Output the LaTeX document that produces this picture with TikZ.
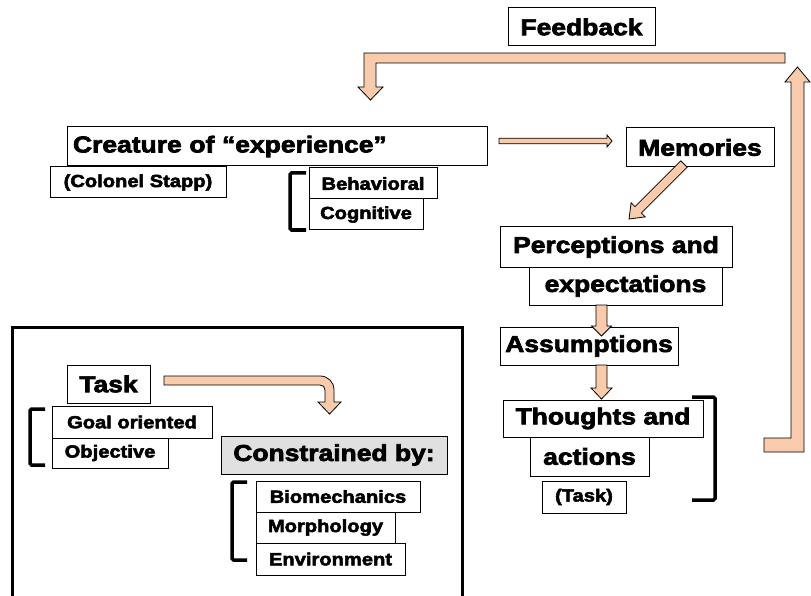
\documentclass[tikz,border=0pt]{standalone}
\usepackage{fontspec}
\newfontfamily\heavy{Liberation Sans}[FakeStretch=1.15,BoldFeatures={FakeBold=3}]
\usetikzlibrary{calc}
\definecolor{peach}{RGB}{248,203,173}
\definecolor{tagfill}{RGB}{224,224,224}

% box given by its corners: style, name, x1, y1, x2, y2, text
\newcommand\boxat[7]{%
  \node[#1, minimum width={#5-#3}, minimum height={#6-#4}] (#2)
    at ({(#3+#5)/2},{(#4+#6)/2}) {#7};}

% straight block arrow: from, to, half shaft, half head, head length
\newcommand\blockarrow[5]{%
  \coordinate (ba-h) at ($(#2)!#5!(#1)$);
  \draw[flow] ($(#1)!#3!90:(#2)$) -- ($(ba-h)!#3!-90:(#1)$)
    -- ($(ba-h)!#4!-90:(#1)$) -- (#2) -- ($(ba-h)!#4!90:(#1)$)
    -- ($(ba-h)!#3!90:(#1)$) -- ($(#1)!#3!-90:(#2)$) -- cycle;}

\begin{document}
\begin{tikzpicture}[x=1pt,y=-1pt,
  box/.style={draw=black, line width=1pt, fill=white, inner sep=0pt},
  big/.style={box, font=\heavy\bfseries\fontsize{23}{26}\selectfont},
  small/.style={box, font=\heavy\bfseries\fontsize{17.5}{20}\selectfont},
  brace/.style={line width=3.5pt, rounded corners=1.5pt},
  flow/.style={fill=peach, draw=black, line width=0.8pt, line join=miter}]
\useasboundingbox (0,0) rectangle (811,596);

% frame around the task panel
\draw[line width=3pt] (12,327) rectangle (462,604);

% feedback loop
\draw[flow] (764,438) -- (791,438) -- (791,82) -- (785,82) -- (797.5,67)
  -- (810,82) -- (804,82) -- (804,452) -- (764,452) -- cycle;
\draw[flow] (785,53) -- (785,63) -- (376,63) -- (376,87) -- (383,87)
  -- (370.5,100) -- (358,87) -- (364,87) -- (364,53) -- cycle;

% task arrow bending down
\draw[flow] (164,376) -- (320,376) .. controls (328,376) and (334,382) .. (334,390)
  -- (334,402) -- (341,402) -- (329.5,414) -- (318,402) -- (325,402)
  -- (325,390) .. controls (325,387) and (323,385) .. (320,385) -- (164,385) -- cycle;

% upper part
\boxat{big}{feedback}{508}{8}{655}{46}{Feedback}
\node[big, minimum width=420, minimum height=39, text width=408, align=left]
  (creature) at (277,146.5) {Creature of “experience”};
\boxat{small}{stapp}{50}{167}{226}{198}{(Colonel Stapp)}
\boxat{small}{behav}{309}{168}{437}{199}{Behavioral}
\boxat{small}{cogn}{309}{199}{423}{230}{Cognitive}
\boxat{big}{memories}{626}{128}{774}{167}{Memories}
\boxat{big}{percep}{500}{227}{732}{267}{Perceptions and}
\boxat{big}{expect}{529}{267}{722}{305}{expectations}
\boxat{big}{assume}{500}{327}{678}{365}{Assumptions}
\boxat{big}{thought}{503}{400}{703}{437}{Thoughts and}
\boxat{big}{actions}{530}{437}{649}{476}{actions}
\boxat{small}{tasknote}{542}{481}{626}{513}{(Task)}

% main chain arrows, over the box borders
\coordinate (cm-a) at (499,141);  \coordinate (cm-b) at (612,141);
\coordinate (mp-a) at (684,164);  \coordinate (mp-b) at (629,219);
\coordinate (ea-a) at (601.5,305); \coordinate (ea-b) at (601.5,336);
\coordinate (at-a) at (601.5,365); \coordinate (at-b) at (601.5,399);
\blockarrow{cm-a}{cm-b}{2.8pt}{6pt}{5pt}
\blockarrow{mp-a}{mp-b}{4.5pt}{10pt}{13pt}
\blockarrow{ea-a}{ea-b}{5.5pt}{10pt}{10pt}
\blockarrow{at-a}{at-b}{5.5pt}{10.5pt}{11pt}

% task panel
\boxat{big}{task}{67}{365}{150}{403}{Task}
\boxat{small}{goal}{52}{406}{212}{438}{Goal oriented}
\boxat{small}{object}{52}{438}{168}{468}{Objective}
\boxat{big,fill=tagfill}{constr}{221}{436}{447}{474}{Constrained by:}
\boxat{small}{biomech}{256}{481}{420}{512}{Biomechanics}
\boxat{small}{morph}{256}{512}{395}{543}{Morphology}
\boxat{small}{environ}{256}{543}{405}{575}{Environment}

% brackets
\draw[brace] (306,173) -- (290,173) -- (290,230) -- (306,230);
\draw[brace] (45,409) -- (30,409) -- (30,465) -- (45,465);
\draw[brace] (247,482) -- (232,482) -- (232,560) -- (247,560);
\draw[brace] (692,397) -- (715,397) -- (715,500) -- (692,500);
\end{tikzpicture}
\end{document}
